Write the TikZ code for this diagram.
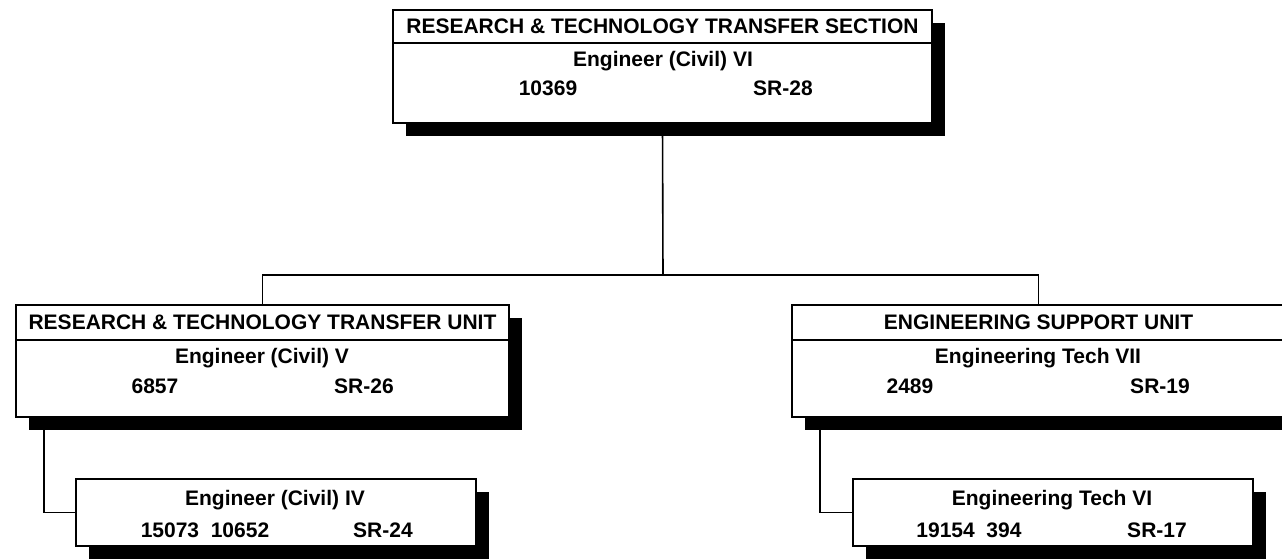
\documentclass[tikz,border=0pt]{standalone}
\usepackage{fontspec}
\setmainfont{Liberation Sans}
\usetikzlibrary{positioning,shadows}

\tikzset{
  unitbox/.style={draw, line width=1pt, fill=white, inner sep=0pt,
    general shadow={fill=black, shadow xshift=6.5pt, shadow yshift=-6.5pt}},
  headbox/.style={draw, line width=1pt, fill=white, inner sep=0pt, anchor=north},
  txt/.style={font=\bfseries\fontsize{10.5}{12}\selectfont, inner sep=0pt},
  link/.style={line width=0.8pt}
}

\begin{document}
\begin{tikzpicture}[x=0.5pt, y=-0.5pt]
  \useasboundingbox (0,0) rectangle (1282,558);

  % Section (top)
  \node[unitbox, minimum width=269.5pt, minimum height=56.75pt] (sec) at (662.5,66.25) {};
  \node[headbox, txt, minimum width=269.5pt, minimum height=16.75pt] (sechead) at (sec.north) {RESEARCH \& TECHNOLOGY TRANSFER SECTION};
  \node[txt] (secname) at (663,61) {Engineer (Civil) VI};
  \node[txt] (secnum) at (548,88) {10369};
  \node[txt] (secgrade) at (783,88) {SR-28};

  % Research & technology transfer unit (left)
  \node[unitbox, minimum width=246.5pt, minimum height=56pt] (rtu) at (262.5,361) {};
  \node[headbox, txt, minimum width=246.5pt, minimum height=17.5pt] (rtuhead) at (rtu.north) {RESEARCH \& TECHNOLOGY TRANSFER UNIT};
  \node[txt] (rtuname) at (262,358) {Engineer (Civil) V};
  \node[txt] (rtunum) at (155,386) {6857};
  \node[txt] (rtugrade) at (364,386) {SR-26};

  % Engineering support unit (right)
  \node[unitbox, minimum width=246.5pt, minimum height=56pt] (esu) at (1038.5,361) {};
  \node[headbox, txt, minimum width=246.5pt, minimum height=17.5pt] (esuhead) at (esu.north) {ENGINEERING SUPPORT UNIT};
  \node[txt] (esuname) at (1038,358) {Engineering Tech VII};
  \node[txt] (esunum) at (910,386) {2489};
  \node[txt] (esugrade) at (1160,386) {SR-19};

  % Staff boxes
  \node[unitbox, minimum width=200pt, minimum height=33.5pt] (civ) at (275.5,512.5) {};
  \node[txt] (civname) at (275,500) {Engineer (Civil) IV};
  \node[txt] (civnum) at (205,530) {15073\ \ 10652};
  \node[txt] (civgrade) at (383,530) {SR-24};

  \node[unitbox, minimum width=200pt, minimum height=33.5pt] (tech) at (1052.5,512.5) {};
  \node[txt] (techname) at (1052,500) {Engineering Tech VI};
  \node[txt] (technum) at (969,530) {19154\ \ 394};
  \node[txt] (techgrade) at (1157,530) {SR-17};

  % Connectors
  \coordinate (bus) at (663,275);
  \draw[link] (sec.south) -- (bus);
  \draw[link] (rtuhead.north) |- (bus) -| (esuhead.north);
  \draw[link] (civ.west) -| ([xshift=14.5pt]rtu.south west);
  \draw[link] (tech.west) -| ([xshift=14.5pt]esu.south west);
\end{tikzpicture}
\end{document}
